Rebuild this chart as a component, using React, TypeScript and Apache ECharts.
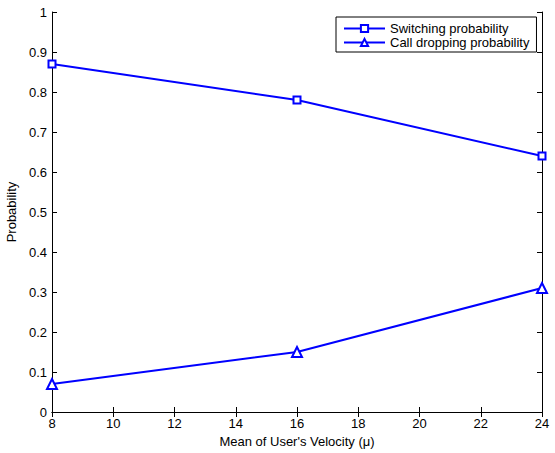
import React, { useEffect, useRef } from "react";
import * as echarts from "echarts";

const velocity = [8, 16, 24];
const switchingProb = [0.87, 0.78, 0.64];
const droppingProb = [0.07, 0.15, 0.31];
const seriesNames = ["Switching probability", "Call dropping probability"];

export default function App() {
  const ref = useRef<HTMLDivElement>(null);
  useEffect(() => {
    const chart = echarts.init(ref.current!, null, { renderer: "svg" });
    const font = "Liberation Sans, Arial, sans-serif";
    const axisLine = { show: true, lineStyle: { color: "#000", width: 1 } };
    const tick = { show: true, inside: true, length: 5, lineStyle: { color: "#000" } };
    chart.setOption({
      animation: false,
      backgroundColor: "#fff",
      grid: {
        left: 52,
        right: 13,
        top: 12,
        bottom: 41,
        containLabel: false,
        outerBoundsMode: "none",
      },
      legend: {
        orient: "vertical",
        left: 336,
        top: 17,
        backgroundColor: "#fff",
        borderColor: "#000",
        borderWidth: 1,
        borderRadius: 0,
        padding: [5, 7, 3, 7],
        itemGap: 1,
        itemWidth: 41,
        itemHeight: 9,
        textStyle: { fontFamily: font, fontSize: 13, color: "#000" },
        data: seriesNames,
      },
      xAxis: [
        {
          type: "value",
          min: 8,
          max: 24,
          interval: 2,
          position: "bottom",
          name: "Mean of User's Velocity (μ)",
          nameLocation: "middle",
          nameGap: 19,
          nameTextStyle: { fontFamily: font, fontSize: 13, color: "#000" },
          axisLine,
          axisTick: tick,
          axisLabel: { fontFamily: font, fontSize: 13, color: "#000", margin: 5 },
          splitLine: { show: false },
        },
        {
          type: "value",
          min: 8,
          max: 24,
          interval: 2,
          position: "top",
          axisLine,
          axisTick: tick,
          axisLabel: { show: false },
          splitLine: { show: false },
        },
      ],
      yAxis: [
        {
          type: "value",
          min: 0,
          max: 1,
          interval: 0.1,
          position: "left",
          name: "Probability",
          nameLocation: "middle",
          nameGap: 28,
          nameTextStyle: { fontFamily: font, fontSize: 13, color: "#000" },
          axisLine,
          axisTick: tick,
          axisLabel: {
            fontFamily: font,
            fontSize: 13,
            color: "#000",
            margin: 5,
            formatter: (v: number) => String(Math.round(v * 10) / 10),
          },
          splitLine: { show: false },
        },
        {
          type: "value",
          min: 0,
          max: 1,
          interval: 0.1,
          position: "right",
          axisLine,
          axisTick: tick,
          axisLabel: { show: false },
          splitLine: { show: false },
        },
      ],
      series: [
        {
          name: seriesNames[0],
          type: "line",
          data: velocity.map((x, i) => [x, switchingProb[i]]),
          symbol: "emptyRect",
          symbolSize: 7,
          lineStyle: { color: "#0000ff", width: 2 },
          itemStyle: { color: "#0000ff", borderColor: "#0000ff", borderWidth: 2 },
        },
        {
          name: seriesNames[1],
          type: "line",
          data: velocity.map((x, i) => [x, droppingProb[i]]),
          symbol: "emptyTriangle",
          symbolSize: 10,
          lineStyle: { color: "#0000ff", width: 2 },
          itemStyle: { color: "#0000ff", borderColor: "#0000ff", borderWidth: 2 },
        },
      ],
    });
    return () => chart.dispose();
  }, []);
  return (
    <div
      ref={ref}
      style={{ position: "absolute", left: 0, top: 0, width: 555, height: 453 }}
    />
  );
}
